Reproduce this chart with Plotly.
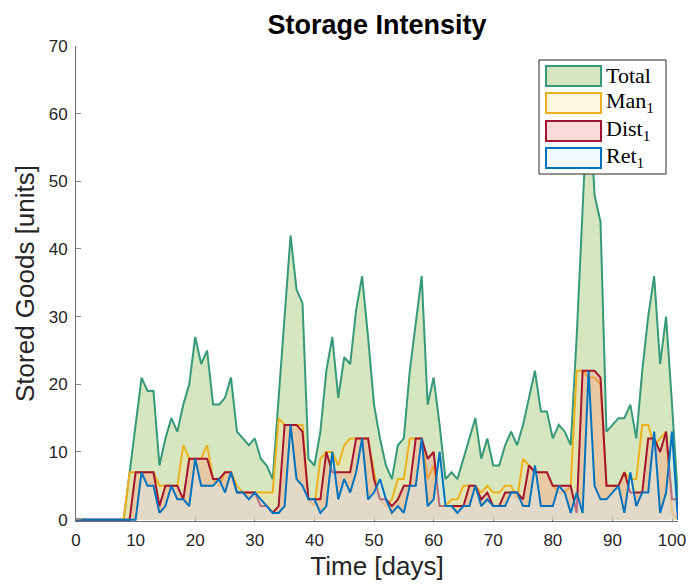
import plotly.graph_objects as go

# ---- data: stored goods per day (days 0..101) ----
days = list(range(0, 102))

man1 = [0, 0, 0, 0, 0, 0, 0, 0, 0, 7,
        7, 7, 7, 7, 5, 5, 5, 5, 11, 9,
        9, 9, 11, 6, 5, 7, 7, 5, 4, 4,
        4, 4, 4, 4, 15, 14, 14, 14, 14, 3,
        2, 9, 10, 10, 8, 11, 12, 12, 12, 12,
        7, 3, 2, 3, 6, 6, 12, 12, 12, 6,
        8, 2, 2, 3, 3, 5, 5, 5, 4, 5,
        4, 4, 5, 5, 3, 9, 8, 7, 7, 7,
        5, 4, 4, 5, 22, 22, 21, 21, 20, 5,
        5, 5, 7, 6, 6, 14, 14, 11, 12, 13,
        1, 0]

dist1 = [0, 0, 0, 0, 0, 0, 0, 0, 0, 0,
         7, 7, 7, 7, 2, 5, 5, 5, 3, 9,
         9, 9, 9, 6, 6, 7, 7, 4, 4, 4,
         4, 2, 2, 1, 2, 14, 14, 14, 13, 3,
         3, 3, 10, 7, 7, 7, 7, 12, 12, 12,
         6, 3, 3, 2, 3, 5, 5, 12, 12, 9,
         10, 2, 2, 2, 2, 2, 5, 5, 3, 4,
         2, 2, 4, 4, 4, 3, 8, 7, 7, 7,
         5, 5, 5, 5, 1, 22, 22, 22, 21, 5,
         5, 5, 7, 4, 4, 4, 12, 12, 10, 13,
         3, 3]

ret1 = [0, 0, 0, 0, 0, 0, 0, 0, 0, 0,
        0, 7, 5, 5, 1, 2, 5, 3, 3, 2,
        9, 5, 5, 5, 6, 4, 7, 4, 4, 3,
        4, 3, 2, 1, 1, 2, 14, 6, 5, 3,
        3, 1, 2, 10, 3, 6, 4, 7, 12, 3,
        4, 6, 3, 1, 2, 1, 5, 5, 12, 2,
        3, 10, 2, 2, 1, 2, 2, 5, 2, 3,
        2, 2, 2, 4, 4, 2, 2, 8, 2, 2,
        2, 5, 4, 1, 4, 1, 22, 5, 3, 3,
        4, 5, 1, 7, 2, 4, 4, 13, 1, 4,
        13, 0]

total = [0, 0, 0, 0, 0, 0, 0, 0, 0, 7,
         14, 21, 19, 19, 8, 12, 15, 13, 17, 20,
         27, 23, 25, 17, 17, 18, 21, 13, 12, 11,
         12, 9, 8, 6, 18, 30, 42, 34, 32, 9,
         8, 13, 22, 27, 18, 24, 23, 31, 36, 27,
         17, 12, 8, 6, 11, 12, 22, 29, 36, 17,
         21, 14, 6, 7, 6, 9, 12, 15, 9, 12,
         8, 8, 11, 13, 11, 14, 18, 22, 16, 16,
         12, 14, 13, 11, 27, 45, 65, 48, 44, 13,
         14, 15, 15, 17, 12, 22, 30, 36, 23, 30,
         17, 3]

x_ticks = list(range(0, 101, 10))
y_ticks = list(range(0, 71, 10))

# ---- styling ----
series = [
    ("Total", total, "#36997A", "rgba(119,172,48,0.30)", "rgb(214,230,193)"),
    ("Man<sub>1</sub>", man1, "#EDB120", "rgba(255,228,145,0.30)", "rgb(255,246,222)"),
    ("Dist<sub>1</sub>", dist1, "#A2142F", "rgba(248,132,132,0.30)", "rgb(253,218,218)"),
    ("Ret<sub>1</sub>", ret1, "#0072BD", "rgba(218,243,255,0.40)", "rgb(242,250,255)"),
]

W, H = 688, 585
ML, MR, MT, MB = 76, 10, 46, 64
PW, PH = W - ML - MR, H - MT - MB


def px(x):
    return (x - ML) / PW


def py(y):
    return (H - MB - y) / PH


fig = go.Figure()
for name, vals, line_col, fill_col, _ in series:
    fig.add_trace(go.Scatter(
        x=days, y=vals, name=name, mode="lines",
        line=dict(color=line_col, width=2),
        fill="tozeroy", fillcolor=fill_col,
        showlegend=False, hoverinfo="skip",
    ))

# ---- boxed legend with outlined swatches ----
shapes = [dict(type="rect", xref="paper", yref="paper",
               x0=px(539), x1=px(666), y0=py(174), y1=py(60),
               fillcolor="white", line=dict(color="#262626", width=1),
               layer="above")]
annotations = []
row_top = [66, 93, 121, 148]
for (name, _, line_col, _, swatch), top in zip(series, row_top):
    shapes.append(dict(type="rect", xref="paper", yref="paper",
                       x0=px(546), x1=px(601), y0=py(top + 20), y1=py(top),
                       fillcolor=swatch, line=dict(color=line_col, width=2),
                       layer="above"))
    annotations.append(dict(xref="paper", yref="paper", x=px(604), y=py(top + 9),
                            text=name, showarrow=False, xanchor="left", yanchor="middle",
                            font=dict(family="Liberation Serif", size=22, color="black")))

axis_common = dict(
    showline=True, linecolor="#6e6e6e", linewidth=1,
    ticks="inside", ticklen=5, tickcolor="#8a8a8a", tickwidth=1,
    showgrid=False, zeroline=False,
    tickfont=dict(family="Liberation Sans", size=17, color="#262626"),
)

fig.update_layout(
    width=W, height=H,
    margin=dict(l=ML, r=MR, t=MT, b=MB, autoexpand=False),
    paper_bgcolor="white", plot_bgcolor="white",
    title=dict(text="<b>Storage Intensity</b>", x=0.5, xref="paper",
               y=1 - 25 / H, yref="container", yanchor="middle",
               font=dict(family="Liberation Sans", size=27, color="black")),
    xaxis=dict(range=[0, 101], tickvals=x_ticks, ticklabelstandoff=4,
               layer="below traces",
               title=dict(text="Time [days]", standoff=7,
                          font=dict(family="Liberation Sans", size=26, color="#262626")),
               **axis_common),
    yaxis=dict(range=[-0.2, 70], tickvals=y_ticks, ticklabelstandoff=4,
               title=dict(text="Stored Goods [units]", standoff=6,
                          font=dict(family="Liberation Sans", size=26, color="#262626")),
               **axis_common),
    shapes=shapes,
    annotations=annotations,
)

fig.write_html("out.html")
